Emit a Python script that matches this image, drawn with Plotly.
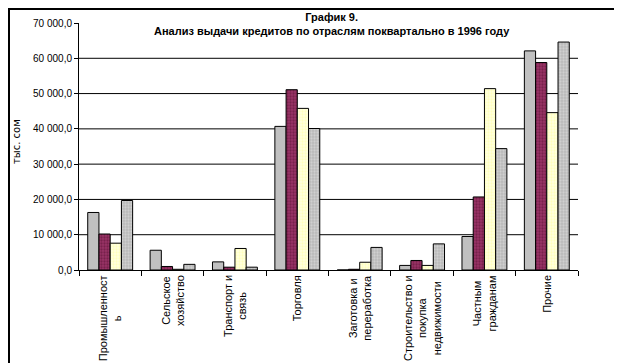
import plotly.graph_objects as go

categories = [
    "Промышленност<br>ь",
    "Сельское<br>хозяйство",
    "Транспорт и<br>связь",
    "Торговля",
    "Заготовка и<br>переработка",
    "Строительство и<br>покупка<br>недвижимости",
    "Частным<br>гражданам",
    "Прочие",
]
q1 = [16300, 5600, 2300, 40700, 0, 1300, 9500, 62100]
q2 = [10200, 1000, 800, 51100, 200, 2700, 20700, 58800]
q3 = [7600, 200, 6100, 45800, 2200, 1300, 51400, 44600]
q4 = [19700, 1600, 800, 40100, 6400, 7400, 34400, 64600]
grid_values = [10000, 20000, 30000, 40000, 50000, 60000]
tick_values = [0, 10000, 20000, 30000, 40000, 50000, 60000, 70000]

styles = [
    dict(color="#C0C0C0", pattern=None),
    dict(color="#993366", pattern=dict(shape=".", bgcolor="#993366", fgcolor="#55102f", size=3, solidity=0.45)),
    dict(color="#FFFFCC", pattern=dict(shape=".", bgcolor="#FFFFE0", fgcolor="#FFFF99", size=3, solidity=0.45)),
    dict(color="#C8C8C8", pattern=dict(shape=".", bgcolor="#B8B8B8", fgcolor="#E8E8E8", size=3, solidity=0.45)),
]

fig = go.Figure()
for name, vals, st in zip(["I кв.", "II кв.", "III кв.", "IV кв."], [q1, q2, q3, q4], styles):
    marker = dict(color=st["color"], line=dict(color="black", width=1))
    if st["pattern"]:
        marker["pattern"] = st["pattern"]
    fig.add_trace(go.Bar(x=categories, y=vals, name=name, marker=marker))

for g in grid_values:
    fig.add_shape(type="line", xref="paper", yref="y", x0=0, x1=1, y0=g, y1=g,
                  line=dict(color="black", width=1), layer="below")

PW, PH = 499, 247
L, T, R, B = 71, 15, 44, 93
# chart frame (left and top edges)
fig.add_shape(type="line", xref="paper", yref="paper", x0=-L/PW + 1/PW, x1=-L/PW + 1/PW, y0=-B/PH, y1=1 + T/PH,
              line=dict(color="black", width=2))
fig.add_shape(type="line", xref="paper", yref="paper", x0=-L/PW, x1=(PW + R)/PW, y0=1 + (T - 1)/PH, y1=1 + (T - 1)/PH,
              line=dict(color="black", width=2))

# category labels: rotated, lines centred, starting just below the axis
for c in categories:
    fig.add_annotation(text=c, x=c, xref="x", yref="paper", y=-3/PH, xanchor="center", yanchor="top",
                       textangle=-90, align="center", showarrow=False,
                       font=dict(family="Arial, Liberation Sans", size=11, color="black"))

fig.add_annotation(text="тыс. сом", textangle=-90, xref="paper", yref="paper",
                   x=-63/PW, y=(270-142)/PH, xanchor="center", yanchor="middle", showarrow=False,
                   font=dict(family="DejaVu Sans, Arial", size=10, color="black"))

fig.add_annotation(text="<b>График 9.</b><br><b>Анализ выдачи кредитов по отраслям поквартально в 1996 году</b>",
                   xref="paper", yref="paper", x=(332-79)/PW, y=1 + 14/PH, xanchor="center", yanchor="top",
                   showarrow=False, align="center",
                   font=dict(family="Liberation Sans Narrow, Arial", size=11, color="black"))

fig.update_layout(
    width=614, height=355,
    margin=dict(l=L, r=R, t=T, b=B, autoexpand=False),
    paper_bgcolor="white", plot_bgcolor="white",
    barmode="group", bargap=0.28, bargroupgap=0,
    showlegend=False,
    separators=", ",
    font=dict(family="Arial, Liberation Sans", color="black"),
    xaxis=dict(
        automargin=False,
        showline=True, linecolor="black", linewidth=1,
        ticks="outside", ticklen=5, tickcolor="black", tickson="boundaries",
        showticklabels=False,
        showgrid=False,
    ),
    yaxis=dict(
        automargin=False,
        range=[0, 70000], tickvals=tick_values, tickformat=",.1f",
        showline=True, linecolor="black", linewidth=1,
        ticks="outside", ticklen=4, tickcolor="black",
        showgrid=False, zeroline=False,
        tickfont=dict(size=10, family="Arial, Liberation Sans"),
    ),
)

fig.write_html("out.html")
